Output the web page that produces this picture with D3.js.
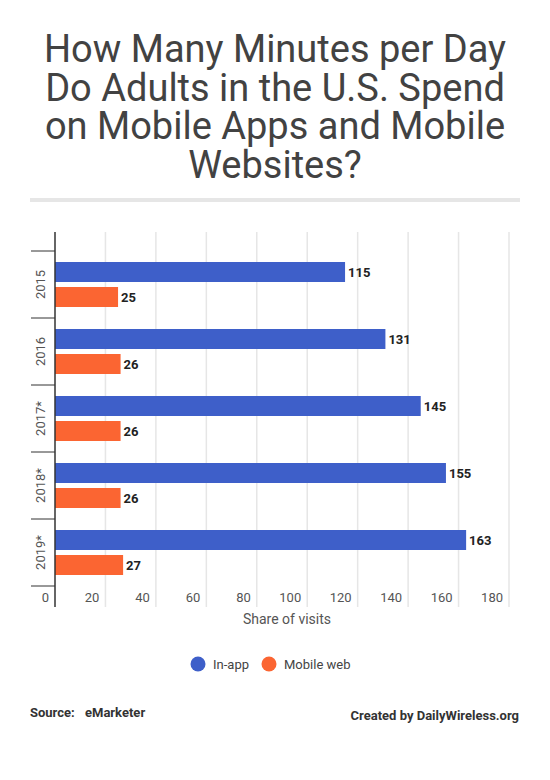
<!DOCTYPE html>
<html>
<head>
<meta charset="utf-8">
<script src="https://cdn.jsdelivr.net/npm/d3@7"></script>
<style>
  body { margin: 0; background: #fff; }
  svg { display: block; font-family: Roboto, "Noto Sans", sans-serif; }
</style>
</head>
<body>
<svg id="chart" width="550" height="780"></svg>
<script>
// Data
const years = ['2015', '2016', '2017*', '2018*', '2019*'];
const inApp = [115, 131, 145, 155, 163];
const mobileWeb = [25, 26, 26, 26, 27];
const seriesNames = ['In-app', 'Mobile web'];
const xTicks = [0, 20, 40, 60, 80, 100, 120, 140, 160, 180];
const titleLines = ['How Many Minutes per Day', 'Do Adults in the U.S. Spend', 'on Mobile Apps and Mobile', 'Websites?'];

const colors = ['#3e5fc9', '#fb6532'];

const svg = d3.select('#chart');

// Title
svg.append('g')
    .selectAll('text')
    .data(titleLines)
    .enter()
    .append('text')
    .attr('x', 275)
    .attr('y', (d, i) => 62 + i * 38.5)
    .attr('text-anchor', 'middle')
    .style('font-size', '38px')
    .style('fill', '#424242')
    .text(d => d);

// separator under title
svg.append('rect')
    .attr('x', 30).attr('y', 198)
    .attr('width', 490).attr('height', 4)
    .attr('fill', '#e6e6e6');

// Scales
const xScale = d3.scaleLinear()
    .domain([0, 180])
    .range([55, 509]);

const yScale = d3.scaleBand()
    .domain(years)
    .range([251, 586]);

const subScale = d3.scaleBand()
    .domain(seriesNames)
    .range([0, yScale.bandwidth()])
    .paddingInner(0.2)
    .paddingOuter(0.44);

// Gridlines
svg.append('g')
    .selectAll('line')
    .data(xTicks.slice(1))
    .enter()
    .append('line')
    .attr('x1', d => xScale(d))
    .attr('x2', d => xScale(d))
    .attr('y1', 232)
    .attr('y2', 607)
    .attr('stroke', '#e6e6e6')
    .attr('stroke-width', 1.5);

// X tick labels (sit just left of each gridline)
svg.append('g')
    .selectAll('text')
    .data(xTicks)
    .enter()
    .append('text')
    .attr('x', d => xScale(d) - 6)
    .attr('y', 602)
    .attr('text-anchor', 'end')
    .style('font-size', '13px')
    .style('fill', '#555')
    .text(d => d);

// X axis title
svg.append('text')
    .attr('x', 287)
    .attr('y', 624)
    .attr('text-anchor', 'middle')
    .style('font-size', '14px')
    .style('fill', '#555')
    .text('Share of visits');

// Bars
const rows = years.map((y, i) => ({year: y, values: [inApp[i], mobileWeb[i]]}));

const groups = svg.selectAll('.year')
    .data(rows)
    .enter()
    .append('g')
    .attr('class', 'year')
    .attr('transform', d => `translate(0,${yScale(d.year)})`);

groups.selectAll('rect')
    .data(d => d.values.map((v, i) => ({series: seriesNames[i], value: v, idx: i})))
    .enter()
    .append('rect')
    .attr('x', xScale(0))
    .attr('y', d => subScale(d.series))
    .attr('width', d => xScale(d.value) - xScale(0))
    .attr('height', subScale.bandwidth())
    .attr('fill', d => colors[d.idx]);

groups.selectAll('.label')
    .data(d => d.values.map((v, i) => ({series: seriesNames[i], value: v})))
    .enter()
    .append('text')
    .attr('class', 'label')
    .attr('x', d => xScale(d.value) + 3)
    .attr('y', d => subScale(d.series) + subScale.bandwidth() / 2 + 4.5)
    .style('font-size', '13px')
    .style('font-weight', 'bold')
    .style('fill', '#222')
    .text(d => d.value);

// Y axis: line, tick marks at band edges, rotated labels
svg.append('line')
    .attr('x1', 55).attr('x2', 55)
    .attr('y1', 232).attr('y2', 607)
    .attr('stroke', '#333')
    .attr('stroke-width', 1.5);

const bandEdges = years.map(y => yScale(y)).concat([yScale.range()[1]]);
svg.append('g')
    .selectAll('line')
    .data(bandEdges)
    .enter()
    .append('line')
    .attr('x1', 31).attr('x2', 55)
    .attr('y1', d => d).attr('y2', d => d)
    .attr('stroke', '#333')
    .attr('stroke-width', 1);

svg.append('g')
    .selectAll('text')
    .data(years)
    .enter()
    .append('text')
    .attr('transform', d => `translate(45,${yScale(d) + yScale.bandwidth() / 2}) rotate(-90)`)
    .attr('text-anchor', 'middle')
    .style('font-size', '13px')
    .style('fill', '#555')
    .text(d => d);

// Legend
const legend = svg.append('g').attr('transform', 'translate(0,664)');
const legendX = [198, 269];
legend.selectAll('circle')
    .data(seriesNames)
    .enter()
    .append('circle')
    .attr('cx', (d, i) => legendX[i])
    .attr('cy', 0)
    .attr('r', 7.5)
    .attr('fill', (d, i) => colors[i]);
legend.selectAll('text')
    .data(seriesNames)
    .enter()
    .append('text')
    .attr('x', (d, i) => legendX[i] + 15)
    .attr('y', 4.5)
    .style('font-size', '13px')
    .style('fill', '#444')
    .text(d => d);

// Footer
svg.append('text')
    .attr('x', 30).attr('y', 717)
    .style('font-size', '13px')
    .style('font-weight', 'bold')
    .style('fill', '#333')
    .text('Source:');

svg.append('text')
    .attr('x', 85).attr('y', 717)
    .style('font-size', '13px')
    .style('font-weight', 'bold')
    .style('fill', '#333')
    .text('eMarketer');

svg.append('text')
    .attr('x', 519).attr('y', 720)
    .attr('text-anchor', 'end')
    .style('font-size', '13px')
    .style('font-weight', 'bold')
    .style('fill', '#333')
    .text('Created by DailyWireless.org');
</script>
</body>
</html>
